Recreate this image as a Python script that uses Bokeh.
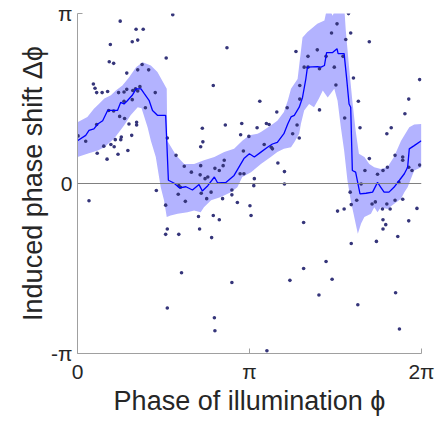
import numpy as np
from bokeh.plotting import figure
from bokeh.models import Range1d, FixedTicker, CustomJSTickFormatter, Span
from bokeh.embed import file_html
from bokeh.resources import INLINE

# ---------------- data (radians) ----------------
pts_phi = [0.78, 1.74, 1.07, 1.20, 1.00, 1.10, 0.60, 2.73, 1.62, 0.58, 0.66, 1.18, 1.30, 1.10, 0.90,
           0.29, 0.32, 0.35, 0.45, 0.55, 0.75, 0.85, 0.90, 1.01, 1.06, 1.14, 1.10, 1.42, 2.48, 3.33,
           0.85, 1.00, 1.24, 0.57, 0.66, 0.77, 0.86, 0.94, 1.08, 1.08, 0.01, 0.15, 0.35, 0.99, 0.80,
           0.79, 0.48, 0.61, 0.67, 0.69, 0.36, 0.54, 0.74, 0.92, 2.28, 2.70, 2.29, 2.25, 3.00, 3.28,
           2.98, 1.64, 1.80, 1.95, 2.08, 2.25, 2.24, 2.38, 2.51, 2.68, 2.66, 2.59, 2.97, 3.04, 3.23,
           3.22, 1.85, 2.33, 1.44, 0.21, 1.84, 1.88, 1.61, 1.97, 2.26, 2.44, 2.36, 2.65, 2.82, 2.82,
           2.92, 3.15, 3.17, 2.21, 2.48, 2.59, 2.23, 2.45, 1.64, 1.61, 1.85, 1.90, 2.82, 1.64, 2.50,
           2.51, 3.78, 4.13, 4.75, 4.87, 4.98, 5.10, 5.00, 5.18, 5.38, 5.44, 5.65, 5.57, 5.71, 5.80,
           5.94, 6.20, 6.05, 5.58, 5.63, 5.58, 5.85, 5.46, 5.00, 4.54, 4.13, 3.88, 4.65, 4.41, 5.12,
           5.81, 5.88, 3.46, 4.95, 4.74, 4.64, 4.99, 4.90, 5.33, 3.99, 4.38, 4.21, 4.54, 4.85, 4.14,
           4.21, 4.42, 4.69, 5.04, 6.25, 4.06, 4.72, 4.06, 6.05, 5.13, 3.83, 3.64, 4.42, 4.88, 5.98,
           3.45, 3.50, 4.01, 5.16, 5.73, 5.65, 3.93, 4.05, 3.13, 3.41, 3.54, 3.56, 3.03, 3.66, 3.78,
           5.80, 5.94, 5.33, 5.94, 5.25, 5.66, 5.58, 5.48, 5.87, 6.05, 6.11, 6.25]
pts_dphi = [3.00, 3.12, 2.85, 2.85, 2.62, 2.65, 2.57, 2.51, 2.32, 2.25, 2.22, 2.20, 2.10, 2.10, 2.04,
            1.84, 1.76, 1.68, 1.68, 1.70, 1.68, 1.69, 1.74, 1.72, 1.75, 1.79, 1.71, 1.68, 1.81, 1.52,
            1.52, 1.55, 1.40, 1.35, 1.34, 1.24, 1.20, 1.10, 1.13, 1.08, 0.88, 0.78, 1.09, 0.89, 0.86,
            0.81, 0.69, 0.72, 0.68, 0.81, 0.56, 0.45, 0.54, 0.61, 1.02, 1.08, 0.77, 0.68, 1.11, 1.03,
            0.90, 0.84, 0.52, 0.32, 0.21, 0.33, 0.16, 0.12, 0.28, 0.43, 0.33, 0.24, 0.18, 0.18, 0.09,
            -0.04, -0.04, 0.09, -0.13, -0.32, -0.20, -0.07, -0.40, -0.33, -0.18, -0.16, -0.28, -0.28, -0.12, -0.21,
            -0.35, -0.41, -0.59, -0.61, -0.59, -0.67, -0.84, -1.00, -0.84, -0.94, -0.94, -1.65, -1.83, -2.30, -2.48,
            -2.72, -0.01, -0.72, -0.51, -0.47, -0.16, -0.31, -0.39, -0.01, -0.38, -0.34, -0.38, -0.47, -0.47, -0.31,
            -0.29, -0.46, -0.69, -0.67, -0.76, -0.84, -0.98, -1.07, -1.11, -1.44, -1.57, -1.79, -1.77, -2.06, -2.24,
            -2.02, -2.69, -3.09, 3.14, 2.95, 2.78, 2.78, 2.66, 2.62, 2.44, 2.47, 2.35, 2.35, 2.35, 2.15,
            2.15, 2.12, 2.15, 1.95, 1.92, 1.81, 1.82, 1.56, 1.56, 1.52, 1.40, 1.32, 1.36, 1.21, 1.29,
            1.11, 1.09, 1.08, 1.03, 1.03, 0.92, 0.92, 0.84, 0.87, 0.72, 0.67, 0.64, 0.60, 0.38, 0.22,
            0.52, 0.49, 0.46, 0.43, 0.24, 0.30, 0.24, 0.17, 0.02, 0.30, 0.24, 0.34]

median_phi = [0.00, 0.15, 0.21, 0.30, 0.37, 0.46, 0.55, 0.64, 0.73, 0.79, 0.85, 0.91, 1.00, 1.07, 1.16,
              1.22, 1.31, 1.37, 1.46, 1.61, 1.63, 1.66, 1.76, 1.86, 1.98, 2.10, 2.22, 2.28, 2.38, 2.50,
              2.56, 2.71, 2.86, 3.04, 3.14, 3.23, 3.35, 3.47, 3.56, 3.65, 3.77, 3.84, 3.90, 3.96, 4.05,
              4.11, 4.17, 4.20, 4.38, 4.45, 4.51, 4.55, 4.66, 4.74, 4.76, 4.87, 4.92, 4.96, 4.99, 5.02,
              5.08, 5.16, 5.27, 5.39, 5.48, 5.54, 5.60, 5.69, 5.78, 5.88, 5.97, 6.03, 6.06, 6.15, 6.28]
median_dphi = [0.79, 0.89, 0.98, 1.01, 1.10, 1.16, 1.35, 1.35, 1.35, 1.50, 1.47, 1.53, 1.63, 1.75, 1.75,
               1.66, 1.53, 1.35, 1.26, 1.26, 0.79, 0.06, 0.01, -0.08, -0.06, -0.12, -0.02, -0.14, -0.04, 0.12,
               0.01, 0.02, 0.15, 0.46, 0.55, 0.49, 0.58, 0.67, 0.73, 0.76, 0.92, 1.10, 1.23, 1.26, 1.41,
               1.59, 1.93, 2.15, 2.16, 2.15, 2.18, 2.42, 2.42, 2.49, 2.40, 2.40, 1.90, 1.47, 1.41, 0.24,
               0.21, -0.19, -0.18, -0.16, 0.02, -0.07, -0.16, -0.16, -0.07, 0.06, 0.18, 0.30, 0.64, 0.70, 0.79]

band_hi_phi = [0.00, 0.18, 0.30, 0.39, 0.49, 0.61, 0.70, 0.82, 0.94, 1.07, 1.19, 1.34, 1.46, 1.63, 1.64,
               1.80, 1.95, 2.13, 2.31, 2.50, 2.68, 2.86, 3.01, 3.14, 3.29, 3.35, 3.53, 3.65, 3.77, 3.84,
               3.90, 4.02, 4.11, 4.20, 4.38, 4.51, 4.57, 4.66, 4.74, 4.87, 4.90, 4.96, 5.02, 5.08, 5.14,
               5.24, 5.33, 5.42, 5.54, 5.66, 5.78, 5.91, 6.06, 6.15, 6.28]
band_hi_dphi = [1.13, 1.23, 1.38, 1.47, 1.57, 1.63, 1.72, 1.81, 1.96, 2.15, 2.24, 2.18, 2.06, 1.75, 0.79,
                0.52, 0.36, 0.36, 0.43, 0.49, 0.58, 0.64, 0.79, 0.89, 0.92, 0.95, 1.07, 1.16, 1.32, 1.53,
                1.75, 1.93, 2.70, 2.80, 2.95, 3.01, 3.30, 3.10, 3.30, 3.30, 2.83, 2.15, 1.53, 0.98, 0.55,
                0.49, 0.36, 0.30, 0.27, 0.30, 0.49, 0.79, 1.04, 1.09, 1.10]

band_lo_phi = [0.00, 0.18, 0.37, 0.49, 0.67, 0.85, 0.97, 1.10, 1.17, 1.28, 1.34, 1.43, 1.52, 1.58, 1.63,
               1.70, 1.83, 2.01, 2.13, 2.25, 2.31, 2.44, 2.62, 2.80, 2.92, 3.01, 3.17, 3.35, 3.53, 3.65,
               3.77, 3.90, 3.96, 4.05, 4.08, 4.14, 4.23, 4.32, 4.41, 4.48, 4.57, 4.69, 4.75, 4.81, 4.87,
               4.93, 4.99, 5.08, 5.12, 5.18, 5.24, 5.36, 5.42, 5.48, 5.54, 5.66, 5.78, 5.91, 5.97, 6.03,
               6.15, 6.28]
band_lo_dphi = [0.49, 0.55, 0.61, 0.67, 0.83, 1.07, 1.26, 1.41, 1.39, 1.04, 0.79, 0.49, -0.07, -0.31, -0.62,
                -0.59, -0.56, -0.53, -0.50, -0.53, -0.44, -0.31, -0.25, -0.16, -0.07, 0.12, 0.21, 0.36, 0.49, 0.58,
                0.64, 0.67, 0.76, 0.92, 1.10, 1.35, 1.47, 1.41, 1.57, 1.72, 1.59, 1.75, 1.53, 1.04, 0.61,
                0.06, -0.31, -0.74, -0.93, -0.74, -0.62, -0.56, -0.44, -0.53, -0.44, -0.47, -0.38, -0.28, -0.16, -0.07,
                0.24, 0.30]

x_tick_values = [0.0, np.pi, 2 * np.pi]
x_tick_labels = ["0", "π", "2π"]
y_tick_values = [-np.pi, 0.0, np.pi]
y_tick_labels = ["-π", "0", "π"]

# ---------------- figure ----------------
FONT = "Liberation Sans"
TXT = "#262626"
AX = "#a0a0a0"

p = figure(width=438, height=425,
           x_range=Range1d(0, 2 * np.pi), y_range=Range1d(-np.pi, np.pi),
           output_backend="svg", toolbar_location=None,
           min_border_left=77, min_border_right=17, min_border_top=13, min_border_bottom=72)
p.outline_line_color = None
p.xgrid.visible = False
p.ygrid.visible = False
p.background_fill_color = "white"
p.border_fill_color = "white"

# band
p.patch(band_hi_phi + band_lo_phi[::-1], band_hi_dphi + band_lo_dphi[::-1],
        fill_color="#b3b3ff", line_color=None)

# zero line
p.add_layout(Span(location=0, dimension="width", line_color="#808080", line_width=1))

# scatter
p.scatter(pts_phi, pts_dphi, size=3.6, fill_color="#35357a", line_color=None)

# running median
p.line(median_phi, median_dphi, line_color="#0000ff", line_width=1.3)

def fmt(vals, labs):
    return CustomJSTickFormatter(args=dict(vals=vals, labs=labs), code="""
        let best = 0, bd = Infinity;
        for (let i = 0; i < vals.length; i++) {
            const d = Math.abs(vals[i] - tick);
            if (d < bd) { bd = d; best = i; }
        }
        return labs[best];
    """)

p.xaxis.ticker = FixedTicker(ticks=x_tick_values)
p.yaxis.ticker = FixedTicker(ticks=y_tick_values)
p.xaxis.formatter = fmt(x_tick_values, x_tick_labels)
p.yaxis.formatter = fmt(y_tick_values, y_tick_labels)

p.xaxis.axis_label = "Phase of illumination ϕ"
p.yaxis.axis_label = "Induced phase shift Δϕ"

for ax in (p.xaxis[0], p.yaxis[0]):
    ax.axis_line_color = AX
    ax.major_tick_line_color = AX
    ax.major_tick_in = 5
    ax.major_tick_out = 0
    ax.minor_tick_line_color = None
    ax.major_label_text_font = FONT
    ax.major_label_text_font_size = "21px"
    ax.major_label_text_color = TXT
    ax.axis_label_text_font = FONT
    ax.axis_label_text_font_size = "27px"
    ax.axis_label_text_font_style = "normal"
    ax.axis_label_text_color = TXT

p.xaxis.major_label_standoff = 6
p.xaxis.axis_label_standoff = 0
p.yaxis.major_label_standoff = 5
p.yaxis.axis_label_standoff = 0

open("out.html", "w").write(file_html(p, INLINE))
